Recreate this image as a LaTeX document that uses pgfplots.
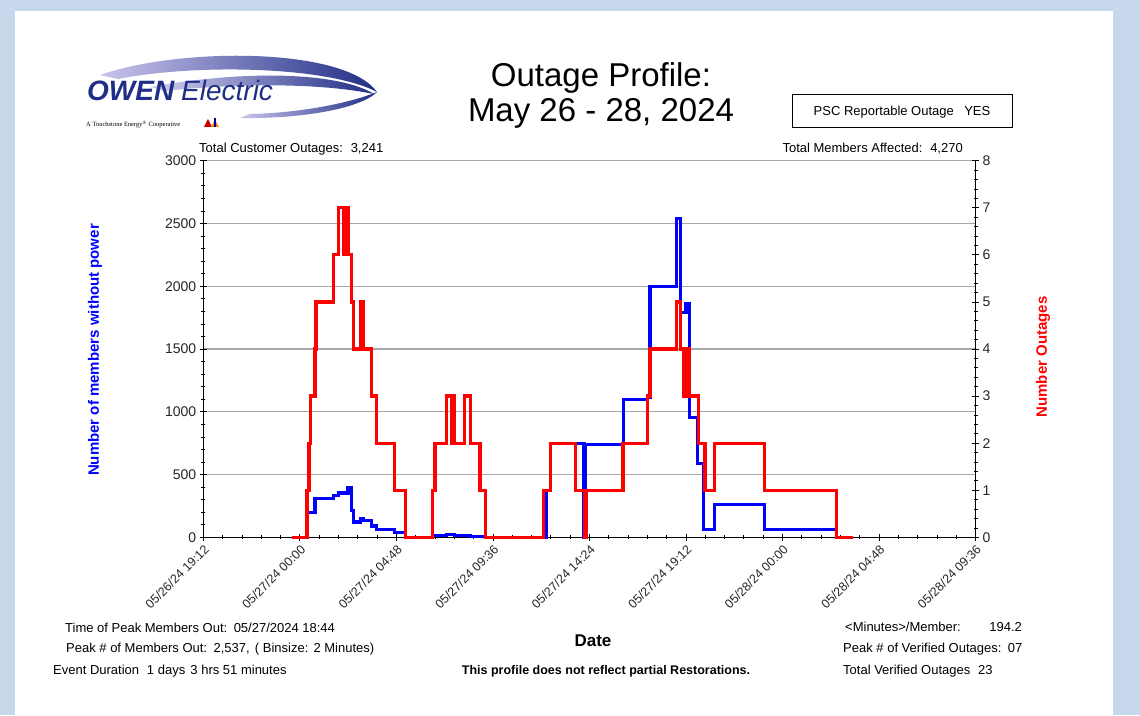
\documentclass[border=0pt]{standalone}
\usepackage{fontspec}
\setmainfont{Liberation Sans}
\newfontfamily\serifsmall{Liberation Serif}
\usepackage{pgfplots}
\pgfplotsset{compat=1.18}
\usepackage{pgfplotstable}
\definecolor{bgc}{HTML}{C8D8EC}
\definecolor{navy}{HTML}{1F2E86}
\definecolor{lav}{HTML}{C9C4EC}
\definecolor{gridc}{HTML}{A8A8A8}

\pgfplotstableread{
h v
-0.41 0
0.36 200
0.75 308
1.66 334
1.91 353
2.40 395
2.57 215
2.65 122
3.02 149
3.18 135
3.57 90
3.82 64
4.69 37
5.25 0
6.58 15
7.30 20
7.71 12
8.46 5
9.25 0
12.27 375
12.47 746
14.13 0
14.20 738
16.08 1095
17.30 1117
17.41 2000
18.74 2537
18.94 1793
19.20 1860
19.37 952
19.79 591
20.06 61
20.61 260
23.10 61
26.70 0
27.50 0
}\bluedata

\pgfplotstableread{
h v
-0.41 0
0.36 1
0.46 2
0.55 3
0.75 4
0.80 5
1.66 6
1.91 7
2.19 6
2.31 7
2.44 6
2.57 5
2.65 4
3.02 5
3.18 4
3.57 3
3.82 2
4.69 1
5.25 0
6.58 1
6.72 2
7.30 3
7.55 2
7.63 3
7.71 2
8.17 3
8.49 2
8.96 1
9.25 0
12.10 1
12.47 2
13.70 1
14.18 0
14.23 1
16.07 2
17.30 3
17.41 4
18.74 5
18.93 4
19.07 3
19.13 4
19.21 3
19.28 4
19.37 3
19.82 2
20.15 1
20.61 2
23.10 1
26.70 0
27.50 0
}\reddata

\begin{document}
\begin{tikzpicture}
\fill[bgc] (0,0) rectangle (1140pt,715pt);
\fill[white] (15pt,0) rectangle (1113pt,704pt);

% logo swooshes
\shade[left color=lav, right color=navy] (100pt,640pt) .. controls (180pt,668pt) and (345pt,668pt) .. (377pt,623pt) .. controls (330pt,648pt) and (200pt,652pt) .. (118pt,636pt) -- cycle;
\shade[left color=lav!80, right color=navy] (150pt,628pt) .. controls (250pt,646pt) and (340pt,642pt) .. (374pt,621pt) .. controls (320pt,632pt) and (240pt,632pt) .. (165pt,624pt) -- cycle;
\shade[left color=lav, right color=navy] (240pt,597pt) .. controls (300pt,596pt) and (360pt,606pt) .. (377pt,623pt) .. controls (350pt,612pt) and (300pt,602pt) .. (250pt,601pt) -- cycle;
\node[anchor=base west, inner sep=0, text=navy, font=\fontsize{28}{30}\selectfont\bfseries\itshape] at (87pt,614pt) {OWEN};
\node[anchor=base west, inner sep=0, text=navy, font=\fontsize{28}{30}\selectfont\itshape] at (181pt,614pt) {Electric};
\node[anchor=base west, inner sep=0, font=\fontsize{6.5}{7}\selectfont\serifsmall] at (86pt,588pt) {A Touchstone Energy\textsuperscript{\tiny ®} Cooperative};
\fill[red!80!black] (204pt,588pt) -- (208pt,596pt) -- (212pt,588pt) -- cycle;
\fill[orange] (211pt,588pt) -- (215pt,595pt) -- (219pt,588pt) -- cycle;
\fill[blue!70!black] (214pt,588pt) rectangle (216pt,597pt);

% title
\node[anchor=base, inner sep=0, font=\fontsize{33}{36}\selectfont] at (601pt,628pt) {Outage Profile:};
\node[anchor=base, inner sep=0, font=\fontsize{33}{36}\selectfont] at (601pt,593pt) {May 26 - 28, 2024};
\draw[line width=1pt] (792pt,620pt) rectangle (1012pt,587pt);
\node[anchor=base, inner sep=0, font=\fontsize{13}{15}\selectfont] at (902pt,599pt) {PSC Reportable Outage\hspace{0.8em}YES};

\node[anchor=base west, inner sep=0, font=\fontsize{13}{15}\selectfont] at (199pt,562pt) {Total Customer Outages:\hspace{0.6em}3,241};
\node[anchor=base east, inner sep=0, font=\fontsize{13}{15}\selectfont] at (963pt,562pt) {Total Members Affected:\hspace{0.6em}4,270};

\begin{axis}[
  at={(203.3pt,177.7pt)}, anchor=south west,
  scale only axis, width=772.2pt, height=376.6pt,
  xmin=-4.8, xmax=33.6, ymin=0, ymax=3000,
  xtick={-4.8,0,4.8,9.6,14.4,19.2,24,28.8,33.6},
  xticklabels={05/26/24 19:12,05/27/24 00:00,05/27/24 04:48,05/27/24 09:36,05/27/24 14:24,05/27/24 19:12,05/28/24 00:00,05/28/24 04:48,05/28/24 09:36},
  minor x tick num=4,
  ytick={0,500,...,3000}, minor y tick num=4,
  axis x line*=bottom, axis y line*=left,
  axis line style={line width=1.3pt, black},
  ymajorgrids, major grid style={gridc, line width=1.2pt},
  tick align=center, major tick length=7pt, minor tick length=4pt,
  tick style={black, line width=0.7pt},
  /pgf/number format/assume math mode=true,
  scaled y ticks=false,
  yticklabel style={font=\fontsize{14}{16}\selectfont, text=black!85, /pgf/number format/1000 sep={}},
  xticklabel style={font=\fontsize{12.5}{14}\selectfont, text=black!85, rotate=45, anchor=north east, inner sep=2pt},
  clip=false,
]
\addplot[blue, line width=3.2pt, const plot, line join=miter] table[x=h,y=v] \bluedata;
\end{axis}

\begin{axis}[
  at={(203.3pt,177.7pt)}, anchor=south west,
  scale only axis, width=772.2pt, height=376.6pt,
  xmin=-4.8, xmax=33.6, ymin=0, ymax=8,
  hide x axis,
  axis y line*=right,
  axis line style={line width=1.3pt, black},
  ytick={0,1,...,8}, minor y tick num=4,
  tick align=center, major tick length=7pt, minor tick length=4pt,
  tick style={black, line width=0.7pt},
  /pgf/number format/assume math mode=true,
  yticklabel style={font=\fontsize{14}{16}\selectfont, text=black!85},
  clip=false,
]
\addplot[red, line width=3.2pt, const plot, line join=miter] table[x=h,y=v] \reddata;
\end{axis}

\node[rotate=90, text=blue, font=\fontsize{15}{17}\selectfont\bfseries] at (95pt,365pt) {Number of members without power};
\node[rotate=90, text=red, font=\fontsize{15}{17}\selectfont\bfseries] at (1043pt,358pt) {Number Outages};

% bottom texts
\node[anchor=base, inner sep=0, font=\fontsize{17}{19}\selectfont\bfseries] at (593pt,69pt) {Date};
\node[anchor=base, inner sep=0, font=\fontsize{12.5}{14}\selectfont\bfseries] at (606pt,41pt) {This profile does not reflect partial Restorations.};
\node[anchor=base west, inner sep=0, font=\fontsize{13}{15}\selectfont] at (65pt,83pt) {Time of Peak Members Out:\hspace{0.5em}05/27/2024 18:44};
\node[anchor=base west, inner sep=0, font=\fontsize{13}{15}\selectfont] at (66pt,63pt) {Peak \# of Members Out:\hspace{0.5em}2,537,\hspace{0.4em}( Binsize:\hspace{0.4em}2 Minutes)};
\node[anchor=base west, inner sep=0, font=\fontsize{13}{15}\selectfont] at (53pt,41pt) {Event Duration\hspace{0.6em}1 days\hspace{0.4em}3 hrs 51 minutes};
\node[anchor=base west, inner sep=0, font=\fontsize{13}{15}\selectfont] at (845pt,84pt) {<Minutes>/Member:\hspace{2.2em}194.2};
\node[anchor=base west, inner sep=0, font=\fontsize{13}{15}\selectfont] at (843pt,63pt) {Peak \# of Verified Outages:\hspace{0.5em}07};
\node[anchor=base west, inner sep=0, font=\fontsize{13}{15}\selectfont] at (843pt,41pt) {Total Verified Outages\hspace{0.6em}23};
\end{tikzpicture}
\end{document}
